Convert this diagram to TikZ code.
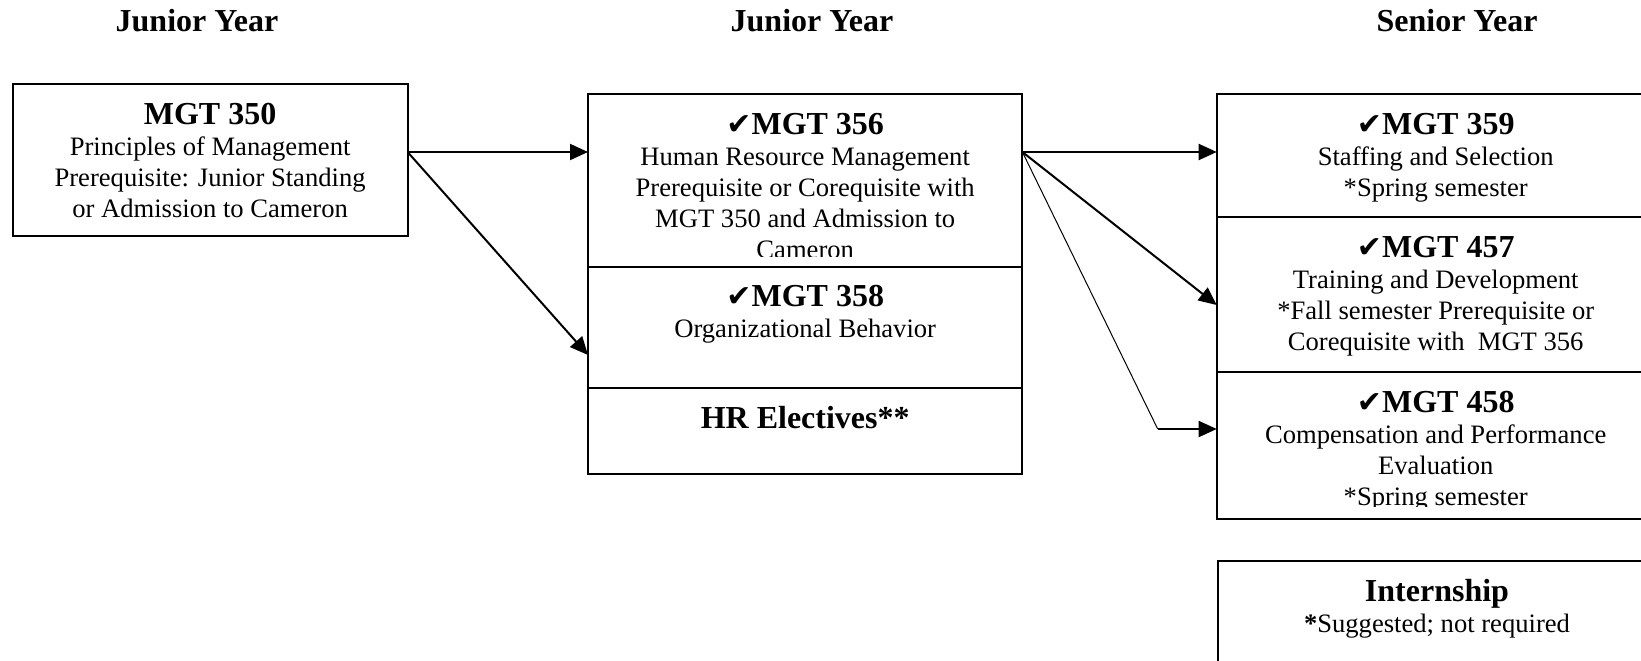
\documentclass[tikz,border=0pt]{standalone}
\usepackage{fontspec}
\setmainfont{Liberation Serif}
\newfontfamily\checkfont{DejaVu Sans}
\usetikzlibrary{positioning,arrows.meta}

\newcommand{\hd}{\fontsize{16}{16}\selectfont\bfseries}
\newcommand{\bodyfont}{\fontsize{13.3}{15.5}\selectfont}
\newcommand{\ck}{{\checkfont\fontsize{15}{15}\selectfont ✔}}
\newcommand{\firstline}{\rule{0pt}{20pt}}

\begin{document}
\begin{tikzpicture}[x=0.5pt,y=-0.5pt,>={Triangle[length=9pt,width=8pt]},
	course/.style={draw,line width=1pt,outer sep=0pt,inner sep=0pt,anchor=north west},
	txt/.style={anchor=north,inner sep=0pt,align=center,font=\bodyfont},
	year/.style={anchor=base,font=\hd},
	link/.style={->,line width=1pt}]

	\useasboundingbox (0,0) rectangle (1641,660);
	\clip (0,0) rectangle (1641,660);

	% year headings
	\node[year] (year1) at (197,31.5) {Junior Year};
	\node[year] (year2) at (812,31.5) {Junior Year};
	\node[year] (year3) at (1457,31.5) {Senior Year};

	% boxes
	\node[course, minimum width=197.5pt, minimum height=76pt] (m350) at (12.6,84) {};
	\node[course, minimum width=217.2pt, minimum height=86.25pt] (m356) at (588,94) {};
	\node[course, minimum width=217.2pt, minimum height=60.6pt, below=0pt of m356] (m358) {};
	\node[course, minimum width=217.2pt, minimum height=43.15pt, below=0pt of m358] (hrel) {};
	\node[course, minimum width=219pt, minimum height=61.65pt] (m359) at (1216.7,94) {};
	\node[course, minimum width=219pt, minimum height=77.5pt, below=0pt of m359] (m457) {};
	\node[course, minimum width=219pt, minimum height=73.15pt, below=0pt of m457] (m458) {};
	\node[course, minimum width=219pt, minimum height=70pt] (intern) at (1218,560.7) {};

	% box texts
	\node[txt] (m350t) at (m350.north) {\firstline{\hd MGT 350}\\Principles of Management\\Prerequisite: Junior Standing\\or Admission to Cameron};
	\begin{scope}
		\clip (m356.north west) rectangle ([yshift=5pt]m356.south east);
		\node[txt] (m356t) at (m356.north) {\firstline{\hd\ck MGT 356}\\Human Resource Management\\Prerequisite or Corequisite with\\MGT 350 and Admission to\\Cameron};
	\end{scope}
	\node[txt] (m358t) at (m358.north) {\firstline{\hd\ck MGT 358}\\Organizational Behavior};
	\node[txt] (hrelt) at (hrel.north) {\firstline{\hd HR Electives**}};
	\node[txt] (m359t) at (m359.north) {\firstline{\hd\ck MGT 359}\\Staffing and Selection\\*Spring semester};
	\node[txt] (m457t) at (m457.north) {\firstline{\hd\ck MGT 457}\\Training and Development\\*Fall semester Prerequisite or\\Corequisite with\ \ MGT 356};
	\begin{scope}
		\clip (m458.north west) rectangle ([yshift=6pt]m458.south east);
		\node[txt] (m458t) at (m458.north) {\firstline{\hd\ck MGT 458}\\Compensation and Performance\\Evaluation\\*Spring semester};
	\end{scope}
	\node[txt] (internt) at (intern.north) {\firstline{\hd Internship}\\{\bfseries *}Suggested; not required};

	% connectors
	\coordinate (fork1) at ([yshift=-34pt]m350.north east);
	\coordinate (fork2) at ([yshift=-29pt]m356.north east);
	\coordinate (bend) at (1157.7,429);

	\path[link] (fork1) edge (fork1 -| m356.west);
	\path[link] (fork1) edge ([yshift=-44.25pt]m358.north west);
	\path[link] (fork2) edge (fork2 -| m359.west);
	\path[link] (fork2) edge ([yshift=-43.85pt]m457.north west);
	\draw[line width=0.5pt] (fork2) -- (bend);
	\path[link] (bend) edge (bend -| m458.west);

\end{tikzpicture}
\end{document}
